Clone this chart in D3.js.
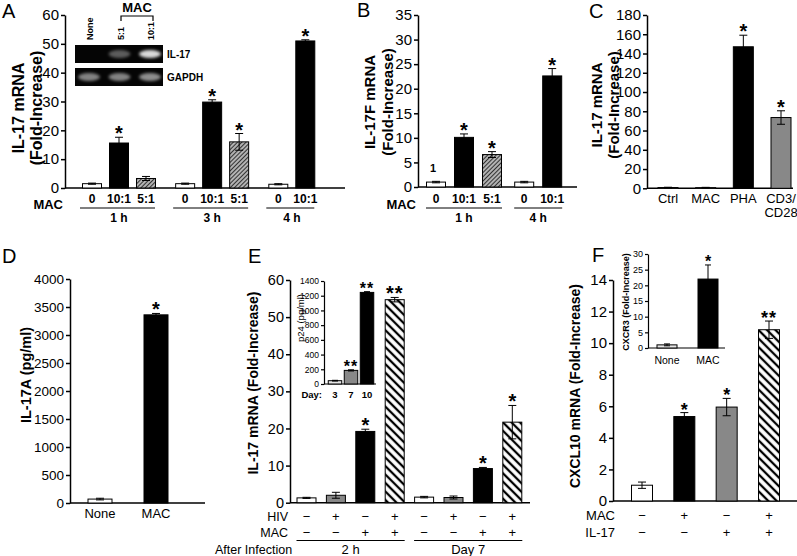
<!DOCTYPE html>
<html><head><meta charset="utf-8">
<script src="https://cdn.jsdelivr.net/npm/d3@7"></script>
<style>
body{margin:0;background:#fff;}
svg{display:block;}
</style></head><body>
<svg id="fig" width="797" height="556"></svg>
<script>
// ================= DATA =================
// Panel A
const aCategories = ["0","10:1","5:1","0","10:1","5:1","0","10:1"];
const aGroups = ["1 h","1 h","1 h","3 h","3 h","3 h","4 h","4 h"];
const aValues = [1.5,15.6,3.3,1.5,29.8,16.0,1.3,51.0];
const aErrors = [0.2,2.0,0.7,0.2,0.8,2.9,0.2,0.4];
const aStars = ["","*","","","*","*","","*"];
const aTicks = [0,10,20,30,40,50,60];
const gelLanes = ["None","5:1","10:1"];
const gelIL17 = [0.0,0.35,0.85];
const gelGAPDH = [0.5,0.5,0.55];
// Panel B
const bCategories = ["0","10:1","5:1","0","10:1"];
const bGroups = ["1 h","1 h","1 h","4 h","4 h"];
const bValues = [1.0,10.1,6.6,1.0,22.6];
const bErrors = [0.15,0.7,0.6,0.15,1.5];
const bStars = ["","*","*","","*"];
const bTicks = [0,5,10,15,20,25,30,35];
// Panel C
const cCategories = ["Ctrl","MAC","PHA","CD3/CD28"];
const cValues = [0.8,0.7,147,73.5];
const cErrors = [0.3,0.3,12,7];
const cStars = ["","","*","*"];
const cTicks = [0,20,40,60,80,100,120,140,160,180];
// Panel D
const dCategories = ["None","MAC"];
const dValues = [70,3360];
const dErrors = [15,25];
const dStars = ["","*"];
const dTicks = [0,500,1000,1500,2000,2500,3000,3500,4000];
// Panel E
const eHIV = ["−","+","−","+","−","+","−","+"];
const eMAC = ["−","−","+","+","−","−","+","+"];
const eGroups = ["2 h","2 h","2 h","2 h","Day 7","Day 7","Day 7","Day 7"];
const eValues = [1.3,2.0,19.2,54.7,1.5,1.4,9.2,21.7];
const eErrors = [0.15,0.8,0.6,0.6,0.2,0.4,0.3,4.5];
const eStars = ["","","*","**","","","*","*"];
const eTicks = [0,10,20,30,40,50,60];
const eInsetDays = ["3","7","10"];
const eInsetValues = [45,185,1245];
const eInsetErrors = [5,8,10];
const eInsetStars = ["","**","**"];
const eInsetTicks = [0,200,400,600,800,1000,1200,1400];
// Panel F
const fMAC = ["−","+","−","+"];
const fIL17 = ["−","−","+","+"];
const fValues = [1.0,5.35,5.95,10.85];
const fErrors = [0.2,0.25,0.55,0.55];
const fStars = ["","*","*","**"];
const fTicks = [0,2,4,6,8,10,12,14];
const fInsetCategories = ["None","MAC"];
const fInsetValues = [1.0,22];
const fInsetErrors = [0.3,4.5];
const fInsetStars = ["","*"];
const fInsetTicks = [0,5,10,15,20,25,30];

// ================= HELPERS =================
const FONT = "'Liberation Sans', Arial, Helvetica, sans-serif";
const svg = d3.select("#fig").attr("font-family", FONT);
const defs = svg.append("defs");
function hatch(id, sp, sw, color, bg, angle) {
  const p = defs.append("pattern").attr("id", id).attr("patternUnits", "userSpaceOnUse")
    .attr("width", sp).attr("height", sp).attr("patternTransform", `rotate(${angle})`);
  p.append("rect").attr("width", sp).attr("height", sp).attr("fill", bg);
  p.append("line").attr("x1", sp/2).attr("x2", sp/2).attr("y1", -1).attr("y2", sp+1)
    .attr("stroke", color).attr("stroke-width", sw);
}
hatch("hatchFine", 3, 1.3, "#333", "#c8c8c8", 45);
hatch("hatchBold", 6, 2.3, "#000", "#fff", -45);
defs.append("filter").attr("id", "blur").attr("x", "-50%").attr("y", "-50%").attr("width", "200%").attr("height", "200%")
  .append("feGaussianBlur").attr("stdDeviation", 1.8);

function text(x, y, s, o = {}) {
  const t = svg.append("text").attr("x", x).attr("y", y).text(s)
    .attr("font-size", o.size || 13).attr("text-anchor", o.anchor || "middle")
    .attr("font-weight", o.bold ? "bold" : "normal").attr("fill", "#000");
  if (o.rotate) t.attr("transform", `rotate(-90,${x},${y})`);
  if (o.baseline) t.attr("dominant-baseline", o.baseline);
  if (o.ls) t.attr("letter-spacing", o.ls);
  return t;
}
function yAxis(scale, x, ticks, fs, sw = 1.5, ts = 4) {
  const g = svg.append("g").attr("transform", `translate(${x},0)`)
    .call(d3.axisLeft(scale).tickValues(ticks).tickSize(ts).tickSizeOuter(0).tickPadding(2).tickFormat(d3.format("d")));
  g.attr("font-family", FONT).attr("font-size", fs);
  g.select(".domain").attr("stroke-width", sw);
  g.selectAll(".tick line").attr("stroke-width", sw);
  g.selectAll(".tick text").attr("fill", "#000");
  return g;
}
function xLine(x0, x1, y, sw = 1.5) {
  svg.append("line").attr("x1", x0).attr("x2", x1).attr("y1", y).attr("y2", y)
    .attr("stroke", "#000").attr("stroke-width", sw);
}
function drawBars(items, y, w, o = {}) {
  const g = svg.append("g");
  g.selectAll("rect").data(items).join("rect")
    .attr("x", d => d.cx - w/2).attr("y", d => y(d.v)).attr("width", w)
    .attr("height", d => y(0) - y(d.v)).attr("fill", d => d.fill)
    .attr("stroke", "#000").attr("stroke-width", o.sw || 1);
  const cap = o.cap || 8;
  items.forEach(d => {
    if (!d.e) return;
    const lo = Math.max(0, d.v - d.e), hi = d.v + d.e;
    g.append("line").attr("x1", d.cx).attr("x2", d.cx).attr("y1", y(lo)).attr("y2", y(hi))
      .attr("stroke", "#000").attr("stroke-width", 1);
    [hi, lo].forEach(v => g.append("line").attr("x1", d.cx - cap/2).attr("x2", d.cx + cap/2)
      .attr("y1", y(v)).attr("y2", y(v)).attr("stroke", "#000").attr("stroke-width", 1));
    if (d.star) text(d.cx, y(hi) + (o.starDy == null ? 3 : o.starDy), d.star,
      {size: o.starSize || 20, bold: true, ls: d.star.length > 1 ? 1 : null});
  });
}
const panelLetter = (x, y, s) => text(x, y, s, {size: 20, anchor: "start"});

// ================= PANEL A =================
panelLetter(2, 18, "A");
const yA = d3.scaleLinear().domain([0, 60]).range([188, 15]);
const aGroupNames = [...new Set(aGroups)];
const aSlot = aCategories.map((c, i) => i + aGroupNames.indexOf(aGroups[i]) * 0.45);
const xA = d3.scaleLinear().domain([0, 7.9]).range([92, 305.3]);
const fillAB = {"0": "#fff", "10:1": "#000", "5:1": "url(#hatchFine)"};
// gel inset
const gelX = d3.scalePoint().domain(gelLanes).range([89, 150]);
[{name: "IL-17", vals: gelIL17, y0: 45}, {name: "GAPDH", vals: gelGAPDH, y0: 68}].forEach(r => {
  svg.append("rect").attr("x", 75).attr("y", r.y0).attr("width", 88).attr("height", 18).attr("fill", "#050505");
  gelLanes.forEach((l, i) => {
    svg.append("ellipse").attr("cx", gelX(l)).attr("cy", r.y0 + 9).attr("rx", 11).attr("ry", 4)
      .attr("fill", "#fff").attr("opacity", r.vals[i]).attr("filter", "url(#blur)");
  });
  text(167, r.y0 + 13, r.name, {size: 10, bold: true, anchor: "start"});
});
gelLanes.forEach(l => text(gelX(l) + 4, 40, l, {size: 9, bold: true, anchor: "start", rotate: true}));
svg.append("path").attr("d", "M121,21V16H153V21").attr("fill", "none").attr("stroke", "#000").attr("stroke-width", 1.2);
text(137, 12, "MAC", {size: 13, bold: true});

yAxis(yA, 65, aTicks, 15);
xLine(65, 345, yA(0));
drawBars(aValues.map((v, i) => ({cx: xA(aSlot[i]), v, e: aErrors[i], star: aStars[i], fill: fillAB[aCategories[i]]})), yA, 19);
aCategories.forEach((c, i) => text(xA(aSlot[i]), 203, c, {size: 12, bold: true}));
text(63, 209, "MAC", {size: 13, bold: true, anchor: "end"});
aGroupNames.forEach(gname => {
  const xs = aSlot.filter((s, i) => aGroups[i] === gname).map(xA);
  xLine(d3.min(xs) - 12, d3.max(xs) + 9, 208, 1);
  text((d3.min(xs) + d3.max(xs)) / 2, 222, gname, {size: 12, bold: true});
});
text(18, 108, "IL-17 mRNA", {size: 16, bold: true, rotate: true, baseline: "central"});
text(36, 108, "(Fold-Increase)", {size: 16, bold: true, rotate: true, baseline: "central"});

// ================= PANEL B =================
panelLetter(357, 17, "B");
const yB = d3.scaleLinear().domain([0, 35]).range([187, 15]);
const bGroupNames = [...new Set(bGroups)];
const bSlot = bCategories.map((c, i) => i + bGroupNames.indexOf(bGroups[i]) * 0.15);
const xB = d3.scaleLinear().domain([0, 4.15]).range([436, 552.2]);
yAxis(yB, 418, bTicks, 15);
xLine(418, 577, yB(0));
drawBars(bValues.map((v, i) => ({cx: xB(bSlot[i]), v, e: bErrors[i], star: bStars[i], fill: fillAB[bCategories[i]]})), yB, 19);
text(xB(bSlot[0]) - 3, 172, "1", {size: 11, bold: true});
bCategories.forEach((c, i) => text(xB(bSlot[i]), 203, c, {size: 12, bold: true}));
text(416, 209, "MAC", {size: 13, bold: true, anchor: "end"});
bGroupNames.forEach(gname => {
  const xs = bSlot.filter((s, i) => bGroups[i] === gname).map(xB);
  xLine(d3.min(xs) - 10, d3.max(xs) + 10, 208, 1);
  text((d3.min(xs) + d3.max(xs)) / 2, 222, gname, {size: 12, bold: true});
});
text(369, 102, "IL-17F mRNA", {size: 15, bold: true, rotate: true, baseline: "central"});
text(387, 102, "(Fold-Increase)", {size: 15, bold: true, rotate: true, baseline: "central"});

// ================= PANEL C =================
panelLetter(589, 18, "C");
const yC = d3.scaleLinear().domain([0, 180]).range([188.3, 15]);
const xC = d3.scalePoint().domain(cCategories).range([668, 781]);
const fillC = {"Ctrl": "#fff", "MAC": "#fff", "PHA": "#000", "CD3/CD28": "#888"};
yAxis(yC, 647, cTicks, 15);
xLine(647, 793, yC(0));
drawBars(cValues.map((v, i) => ({cx: xC(cCategories[i]), v, e: cErrors[i], star: cStars[i], fill: fillC[cCategories[i]]})), yC, 20);
cCategories.forEach(c => {
  const parts = c === "CD3/CD28" ? ["CD3/", "CD28"] : [c];
  parts.forEach((p, j) => text(xC(c), 203 + j * 14, p, {size: 13}));
});
text(596, 105, "IL-17 mRNA", {size: 15, bold: true, rotate: true, baseline: "central"});
text(613, 105, "(Fold-Increase)", {size: 15, bold: true, rotate: true, baseline: "central"});

// ================= PANEL D =================
panelLetter(2, 263, "D");
const yD = d3.scaleLinear().domain([0, 4000]).range([503, 279]);
const xD = d3.scalePoint().domain(dCategories).range([100, 156]);
const fillD = {"None": "#fff", "MAC": "#000"};
yAxis(yD, 70, dTicks, 13.5);
xLine(70, 205, yD(0));
drawBars(dValues.map((v, i) => ({cx: xD(dCategories[i]), v, e: dErrors[i], star: dStars[i], fill: fillD[dCategories[i]]})), yD, 24);
dCategories.forEach(c => text(xD(c), 518, c, {size: 13}));
text(26, 375, "IL-17A (pg/ml)", {size: 14.5, bold: true, rotate: true, baseline: "central"});

// ================= PANEL E =================
panelLetter(248, 263, "E");
const yE = d3.scaleLinear().domain([0, 60]).range([502.7, 280]);
const xE = d3.scalePoint().domain(d3.range(eValues.length)).range([306.5, 512.3]);
const fillE = {"−−": "#fff", "+−": "#888", "−+": "#000", "++": "url(#hatchBold)"};
yAxis(yE, 290, eTicks, 14.5);
xLine(290, 530, yE(0));
drawBars(eValues.map((v, i) => ({cx: xE(i), v, e: eErrors[i], star: eStars[i], fill: fillE[eHIV[i] + eMAC[i]]})), yE, 19);
eHIV.forEach((s, i) => text(xE(i), 520.5, s, {size: 13}));
eMAC.forEach((s, i) => text(xE(i), 536.5, s, {size: 13}));
text(288, 521, "HIV", {size: 12.5, anchor: "end"});
text(288, 537, "MAC", {size: 12.5, anchor: "end"});
text(215, 553.5, "After Infection", {size: 12.5, anchor: "start"});
[...new Set(eGroups)].forEach(gname => {
  const xs = eGroups.map((g, i) => g === gname ? xE(i) : null).filter(v => v != null);
  xLine(d3.min(xs) - 10, d3.max(xs) + 10, 540.5, 1);
  text((d3.min(xs) + d3.max(xs)) / 2, 553.5, gname, {size: 13});
});
text(253, 383, "IL-17 mRNA (Fold-Increase)", {size: 14, bold: true, rotate: true, baseline: "central"});
// inset
const yEi = d3.scaleLinear().domain([0, 1400]).range([384, 281]);
const xEi = d3.scalePoint().domain(eInsetDays).range([335, 367]);
const fillEi = {"3": "#e6e6e6", "7": "#888", "10": "#000"};
yAxis(yEi, 324, eInsetTicks, 8.5, 1.2, 3);
xLine(324, 376, yEi(0), 1.2);
drawBars(eInsetValues.map((v, i) => ({cx: xEi(eInsetDays[i]), v, e: eInsetErrors[i], star: eInsetStars[i], fill: fillEi[eInsetDays[i]]})), yEi, 13.5, {cap: 6, starSize: 16, starDy: 2});
eInsetDays.forEach(d => text(xEi(d), 398, d, {size: 9.5, bold: true}));
text(322, 398, "Day:", {size: 9.5, bold: true, anchor: "end"});
text(300, 318, "p24 (pg/ml)", {size: 9.5, rotate: true, baseline: "central"});

// ================= PANEL F =================
panelLetter(592, 262, "F");
const yF = d3.scaleLinear().domain([0, 14]).range([501, 280]);
const xF = d3.scalePoint().domain(d3.range(fValues.length)).range([642, 769]);
const fillF = {"−−": "#fff", "+−": "#000", "−+": "#888", "++": "url(#hatchBold)"};
yAxis(yF, 613, fTicks, 15);
xLine(613, 797, yF(0));
drawBars(fValues.map((v, i) => ({cx: xF(i), v, e: fErrors[i], star: fStars[i], fill: fillF[fMAC[i] + fIL17[i]]})), yF, 21, {starSize: 18});
fMAC.forEach((s, i) => text(xF(i), 520, s, {size: 13}));
fIL17.forEach((s, i) => text(xF(i), 537, s, {size: 13}));
text(615, 520, "MAC", {size: 13, anchor: "end"});
text(615, 537, "IL-17", {size: 13, anchor: "end"});
text(575, 386, "CXCL10 mRNA (Fold-Increase)", {size: 14, bold: true, rotate: true, baseline: "central"});
// inset
const yFi = d3.scaleLinear().domain([0, 30]).range([348, 254]);
const xFi = d3.scalePoint().domain(fInsetCategories).range([667, 708]);
const fillFi = {"None": "#e6e6e6", "MAC": "#000"};
yAxis(yFi, 648, fInsetTicks, 9, 1.2, 3);
xLine(648, 725, yFi(0), 1.2);
drawBars(fInsetValues.map((v, i) => ({cx: xFi(fInsetCategories[i]), v, e: fInsetErrors[i], star: fInsetStars[i], fill: fillFi[fInsetCategories[i]]})), yFi, 20, {cap: 6, starSize: 16, starDy: 2});
fInsetCategories.forEach(c => text(xFi(c), 364, c, {size: 10.5}));
text(626, 302, "CXCR3 (Fold-Increase)", {size: 9, bold: true, rotate: true, baseline: "central"});
</script>
</body></html>
